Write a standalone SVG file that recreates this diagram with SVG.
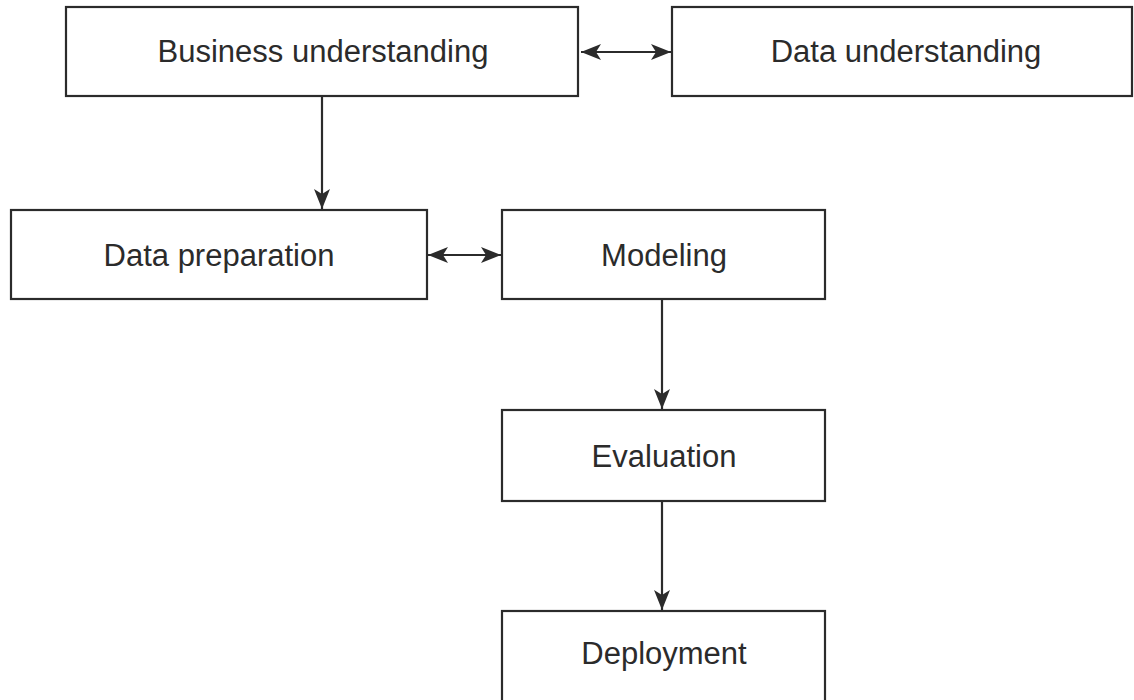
<svg xmlns="http://www.w3.org/2000/svg" width="1134" height="700" viewBox="0 0 1134 700">
<style>
.box{fill:#fff;stroke:#2b2b2b;stroke-width:2.2}
.lbl{font-family:"Liberation Sans",Arial,sans-serif;font-size:31px;fill:#2b2b2b;text-anchor:middle}
.edge{stroke:#2b2b2b;stroke-width:2.2;fill:none}
</style>
<defs>
<marker id="ah" markerUnits="userSpaceOnUse" markerWidth="24" markerHeight="20" viewBox="0 -10 24 20" refX="21" refY="0" orient="auto-start-reverse">
<path d="M21,0 L1,-8 L6,0 L1,8 Z" fill="#2b2b2b"/>
</marker>
</defs>
<rect width="1134" height="700" fill="#fff"/>
<g id="connectors">
<line class="edge" x1="581" y1="52" x2="671" y2="52" marker-start="url(#ah)" marker-end="url(#ah)"/>
<line class="edge" x1="322" y1="97" x2="322" y2="209" marker-end="url(#ah)"/>
<line class="edge" x1="428" y1="255" x2="501" y2="255" marker-start="url(#ah)" marker-end="url(#ah)"/>
<line class="edge" x1="662" y1="299" x2="662" y2="409" marker-end="url(#ah)"/>
<line class="edge" x1="662" y1="501" x2="662" y2="610" marker-end="url(#ah)"/>
</g>
<g id="business">
<rect class="box" x="66" y="7" width="512" height="89"/>
<text class="lbl" x="323" y="62">Business understanding</text>
</g>
<g id="data-understanding">
<rect class="box" x="672" y="7" width="460" height="89"/>
<text class="lbl" x="906" y="62">Data understanding</text>
</g>
<g id="data-preparation">
<rect class="box" x="11" y="210" width="416" height="89"/>
<text class="lbl" x="219" y="266">Data preparation</text>
</g>
<g id="modeling">
<rect class="box" x="502" y="210" width="323" height="89"/>
<text class="lbl" x="664" y="266">Modeling</text>
</g>
<g id="evaluation">
<rect class="box" x="502" y="410" width="323" height="91"/>
<text class="lbl" x="664" y="467">Evaluation</text>
</g>
<g id="deployment">
<rect class="box" x="502" y="611" width="323" height="95"/>
<text class="lbl" x="664" y="664">Deployment</text>
</g>
</svg>
